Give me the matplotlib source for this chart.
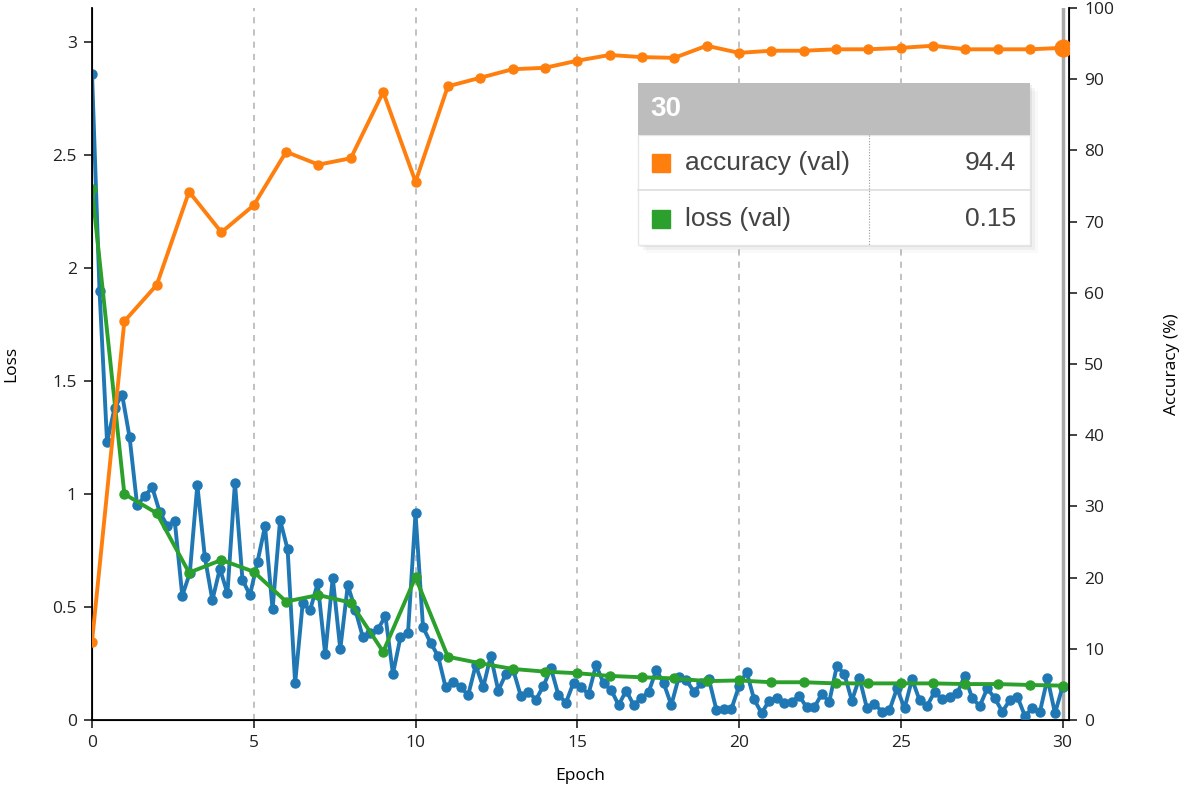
import matplotlib
matplotlib.use("Agg")
import matplotlib.pyplot as plt
import numpy as np
from matplotlib.patches import Rectangle

# training loss, logged 130 times over 30 epochs
train_loss = [
    2.86, 1.90, 1.23, 1.38, 1.44, 1.25, 0.95, 0.99, 1.03, 0.92,
    0.86, 0.88, 0.55, 0.65, 1.04, 0.72, 0.53, 0.67, 0.56, 1.05,
    0.62, 0.553, 0.70, 0.858, 0.49, 0.885, 0.755, 0.162, 0.516, 0.487,
    0.605, 0.29, 0.63, 0.313, 0.597, 0.487, 0.366, 0.383, 0.401, 0.46,
    0.204, 0.366, 0.383, 0.915, 0.41, 0.342, 0.283, 0.145, 0.17, 0.145,
    0.11, 0.243, 0.145, 0.283, 0.13, 0.203, 0.22, 0.106, 0.125, 0.09,
    0.15, 0.229, 0.11, 0.077, 0.165, 0.145, 0.115, 0.243, 0.162, 0.133,
    0.066, 0.13, 0.066, 0.096, 0.125, 0.221, 0.162, 0.066, 0.19, 0.177,
    0.125, 0.162, 0.18, 0.044, 0.047, 0.05, 0.15, 0.214, 0.092, 0.03,
    0.085, 0.096, 0.074, 0.081, 0.106, 0.056, 0.056, 0.115, 0.081, 0.239,
    0.204, 0.085, 0.187, 0.052, 0.071, 0.037, 0.044, 0.14, 0.052, 0.18,
    0.088, 0.062, 0.125, 0.092, 0.103, 0.118, 0.195, 0.096, 0.062, 0.14,
    0.096, 0.037, 0.088, 0.103, 0.018, 0.052, 0.037, 0.184, 0.03, 0.147,
]

epochs = list(range(31))
val_loss = [
    2.35, 1.00, 0.915, 0.652, 0.708, 0.656, 0.524, 0.553, 0.519, 0.302,
    0.631, 0.28, 0.251, 0.226, 0.214, 0.207, 0.195, 0.189, 0.184, 0.172,
    0.175, 0.167, 0.167, 0.162, 0.162, 0.162, 0.162, 0.159, 0.159, 0.155,
    0.152,
]
val_acc = [
    11.0, 56.0, 61.1, 74.2, 68.5, 72.3, 79.8, 78.0, 78.9, 88.2,
    75.6, 89.0, 90.2, 91.4, 91.6, 92.6, 93.4, 93.1, 93.0, 94.7,
    93.7, 94.0, 94.0, 94.2, 94.2, 94.4, 94.7, 94.2, 94.2, 94.2,
    94.4,
]

hover_epoch = 30
hover_acc = "94.4"
hover_loss = "0.15"

W, H = 1180, 792
plt.rcParams.update({"font.family": ["Open Sans", "DejaVu Sans"], "font.size": 12.5})
fig = plt.figure(figsize=(W / 100, H / 100), dpi=100)


def fx(px):
    return px / W


def fy(py):
    return 1 - py / H


ax = fig.add_axes([fx(92), fy(720), fx(1069) - fx(92), fy(8) - fy(720)])
ax2 = ax.twinx()

c_blue, c_orange, c_green = "#1f77b4", "#ff7f0e", "#2ca02c"
x_train = np.linspace(0, 30, len(train_loss))

ax.plot(x_train, train_loss, color=c_blue, lw=2.8, marker="o", ms=6.5, zorder=3)
ax.plot(epochs, val_loss, color=c_green, lw=2.8, marker="o", ms=6.5, zorder=4)
ax2.plot(epochs, val_acc, color=c_orange, lw=2.8, marker="o", ms=6.5, zorder=3)
ax2.plot([epochs[-1]], [val_acc[-1]], "o", color=c_orange, ms=12, zorder=5)

ax.set_xlim(0, 30.2)
ax.set_ylim(0, 3.15)
ax2.set_ylim(0, 100)
ax.set_xticks(range(0, 31, 5))
ax.set_yticks([0, 0.5, 1, 1.5, 2, 2.5, 3])
ax.set_yticklabels(["0", "0.5", "1", "1.5", "2", "2.5", "3"])
ax2.set_yticks(range(0, 101, 10))

for a in (ax, ax2):
    a.spines["top"].set_visible(False)
    a.tick_params(length=6, width=1.2, labelsize=12.5, colors="#222222", pad=5)
ax.spines["left"].set_linewidth(1.3)
ax.spines["bottom"].set_linewidth(1.3)
ax2.spines["right"].set_linewidth(1.3)

for e in range(5, 30, 5):
    ax.axvline(e, color="#b0b0b0", lw=1.1, ls=(0, (4, 4)), zorder=1)
ax.axvline(hover_epoch, color="#a8a8a8", lw=2.5, zorder=2)

ax.set_xlabel("Epoch", fontsize=12.5, labelpad=12)
ax.set_ylabel("Loss", fontsize=12.5, labelpad=24)
ax2.set_ylabel("Accuracy (%)", fontsize=12.5, labelpad=36)

# hover tooltip
tl, tr = 638, 1030
hdr_top, hdr_bot, row1_bot, row2_bot = 83, 135, 190, 245
for off, alpha in ((2, 0.06), (5, 0.04), (8, 0.025)):
    fig.add_artist(Rectangle((fx(tl + off), fy(row2_bot + off)), fx(tr - tl), fy(hdr_top) - fy(row2_bot),
                             transform=fig.transFigure, color="#000000", alpha=alpha, lw=0, zorder=9))
fig.add_artist(Rectangle((fx(tl), fy(row2_bot)), fx(tr - tl), fy(hdr_bot) - fy(row2_bot),
                         transform=fig.transFigure, facecolor="white", edgecolor="#e6e6e6", lw=1, zorder=10))
fig.add_artist(Rectangle((fx(tl), fy(hdr_bot)), fx(tr - tl), fy(hdr_top) - fy(hdr_bot),
                         transform=fig.transFigure, facecolor="#bdbdbd", edgecolor="none", zorder=11))
fig.add_artist(plt.Line2D([fx(tl), fx(tr)], [fy(row1_bot), fy(row1_bot)], transform=fig.transFigure,
                          color="#dddddd", lw=1.2, zorder=11))
fig.add_artist(plt.Line2D([fx(869), fx(869)], [fy(hdr_bot), fy(row2_bot)], transform=fig.transFigure,
                          color="#999999", lw=0.8, ls=(0, (1, 1.5)), zorder=11))
fig.text(fx(650), fy(109), str(hover_epoch), color="white", fontsize=20, fontweight="bold",
         family=["Liberation Sans", "DejaVu Sans"], va="center", ha="left", zorder=12)
rows = [("accuracy (val)", hover_acc, c_orange, 163), ("loss (val)", hover_loss, c_green, 219)]
for label, val, col, yc in rows:
    fig.add_artist(Rectangle((fx(652), fy(yc + 9)), fx(18), fy(yc - 9) - fy(yc + 9),
                             transform=fig.transFigure, color=col, zorder=12))
    fig.text(fx(685), fy(yc), label, color="#444444", fontsize=19, family=["Liberation Sans", "DejaVu Sans"],
             va="center", ha="left", zorder=12)
    fig.text(fx(1016), fy(yc), val, color="#444444", fontsize=19, family=["Liberation Sans", "DejaVu Sans"],
             va="center", ha="right", zorder=12)

fig.savefig("out.png", dpi=100)
